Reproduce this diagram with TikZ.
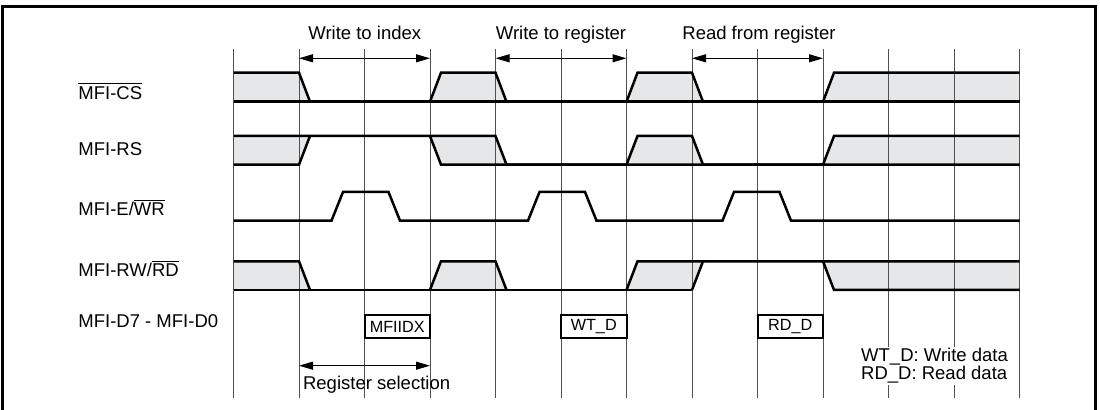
\documentclass[tikz,border=0pt]{standalone}
\usepackage{fontspec}
\setmainfont{Liberation Sans}
\usepackage{tikz}
\usetikzlibrary{arrows.meta}
\definecolor{ValidGray}{RGB}{230,231,232}
\definecolor{GridGray}{RGB}{80,80,80}
\newcommand{\negsig}[1]{$\overline{\hbox{#1}}$}

\begin{document}
\begin{tikzpicture}[x=0.5pt,y=-0.5pt,
    sig/.style={line width=1.25pt,line join=miter},
    valid/.style={fill=ValidGray},
    gridline/.style={GridGray,line width=0.5pt},
    dimarrow/.style={{Triangle[length=7pt,width=4pt]}-{Triangle[length=7pt,width=4pt]},line width=0.5pt},
    lbl/.style={font=\fontsize{9.25pt}{11pt}\selectfont,inner sep=0pt,anchor=base west},
    legendtxt/.style={lbl,fill=white,inner sep=0.6pt},
    databox/.style={draw,line width=1pt,font=\fontsize{8.1pt}{10pt}\selectfont,
      minimum width=32.75pt,minimum height=11.7pt,inner sep=0pt}]
  \useasboundingbox (0,0) rectangle (1100,410);
  % frame
  \draw[line width=1.25pt] (2.5,410) -- (2.5,6.7) -- (1095.3,6.7) -- (1095.3,410);

  % undefined (shaded) phases
  \fill[valid] (233.5,72.7) -- (299,72.7) -- (310,101.7) -- (233.5,101.7) -- cycle;
  \fill[valid] (430,101.7) -- (441,72.7) -- (495.5,72.7) -- (506.5,101.7) -- cycle;
  \fill[valid] (626.5,101.7) -- (637.5,72.7) -- (692,72.7) -- (703,101.7) -- cycle;
  \fill[valid] (823,101.7) -- (834,72.7) -- (1019.5,72.7) -- (1019.5,101.7) -- cycle;
  \fill[valid] (233.5,136) -- (310,136) -- (299,164.7) -- (233.5,164.7) -- cycle;
  \fill[valid] (430,136) -- (495.5,136) -- (506.5,164.7) -- (441,164.7) -- cycle;
  \fill[valid] (626.5,164.7) -- (637.5,136) -- (692,136) -- (703,164.7) -- cycle;
  \fill[valid] (823,164.7) -- (834,136) -- (1019.5,136) -- (1019.5,164.7) -- cycle;
  \fill[valid] (233.5,261.3) -- (299,261.3) -- (310,290) -- (233.5,290) -- cycle;
  \fill[valid] (430,290) -- (441,261.3) -- (495.5,261.3) -- (506.5,290) -- cycle;
  \fill[valid] (626.5,290) -- (637.5,261.3) -- (703,261.3) -- (692,290) -- cycle;
  \fill[valid] (823,261.3) -- (1019.5,261.3) -- (1019.5,290) -- (834,290) -- cycle;

  % time grid
  \foreach \k in {0,...,12}{
    \coordinate (t\k) at ({233.5+65.5*\k},49);
    \coordinate (u\k) at ({233.5+65.5*\k},58.3);
    \coordinate (w\k) at ({233.5+65.5*\k},365.7);
    \draw[gridline] (t\k) -- ++(0,348.7);
  }

  % MFI-CS
  \draw[sig] (233.5,101.7) -- (1019.5,101.7);
  \draw[sig] (233.5,72.7) -- (299,72.7) -- (310,101.7);
  \draw[sig] (430,101.7) -- (441,72.7) -- (495.5,72.7) -- (506.5,101.7);
  \draw[sig] (626.5,101.7) -- (637.5,72.7) -- (692,72.7) -- (703,101.7);
  \draw[sig] (823,101.7) -- (834,72.7) -- (1019.5,72.7);
  % MFI-RS
  \draw[sig] (233.5,136) -- (495.5,136) -- (506.5,164.7) -- (626.5,164.7) -- (637.5,136) -- (692,136)
    -- (703,164.7) -- (823,164.7) -- (834,136) -- (1019.5,136);
  \draw[sig] (233.5,164.7) -- (299,164.7) -- (310,136);
  \draw[sig] (430,136) -- (441,164.7) -- (1019.5,164.7);
  % MFI-E/WR
  \draw[sig] (233.5,220.7) -- (331.5,220.7) -- (343,192) -- (388.5,192) -- (400,220.7) -- (528,220.7)
    -- (539.5,192) -- (585,192) -- (596.5,220.7) -- (722.5,220.7) -- (734,192) -- (779.5,192)
    -- (791,220.7) -- (1019.5,220.7);
  % MFI-RW/RD
  \draw[sig] (233.5,290) -- (692,290);
  \draw[sig] (233.5,261.3) -- (299,261.3) -- (310,290);
  \draw[sig] (430,290) -- (441,261.3) -- (495.5,261.3) -- (506.5,290);
  \draw[sig] (626.5,290) -- (637.5,261.3) -- (1019.5,261.3);
  \draw[sig] (692,290) -- (703,261.3);
  \draw[sig] (823,261.3) -- (834,290) -- (1019.5,290);

  % data bus
  \node[databox] (idx) at (397.25,326.7) {MFIIDX};
  \node[databox] (wtd) at (593.75,326.7) {WT\_D};
  \node[databox] (rdd) at (790.25,326.7) {RD\_D};

  % phases
  \node[lbl] (wrindex) at (308,40) {Write to index};
  \node[lbl] (wrreg) at (495.5,40) {Write to register};
  \node[lbl] (rdreg) at (682,40) {Read from register};
  \draw[dimarrow] (u1) -- (u3);
  \draw[dimarrow] (u4) -- (u6);
  \draw[dimarrow] (u7) -- (u9);
  \draw[dimarrow] (w1) -- (w3);
  \node[lbl] (regsel) at (302.7,390) {Register selection};

  % signal names
  \node[lbl] (cs) at (78,99.3) {\negsig{MFI-CS}};
  \node[lbl] (rs) at (78,156) {MFI-RS};
  \node[lbl] (ewr) at (78,216) {MFI-E/\negsig{WR}};
  \node[lbl] (rwrd) at (78,276.7) {MFI-RW/\negsig{RD}};
  \node[lbl] (dbus) at (78,327.3) {MFI-D7 - MFI-D0};

  % legend
  \node[legendtxt] (keywt) at (859.6,361.7) {WT\_D: Write data};
  \node[legendtxt] (keyrd) at (859.6,380) {RD\_D: Read data};
\end{tikzpicture}
\end{document}
